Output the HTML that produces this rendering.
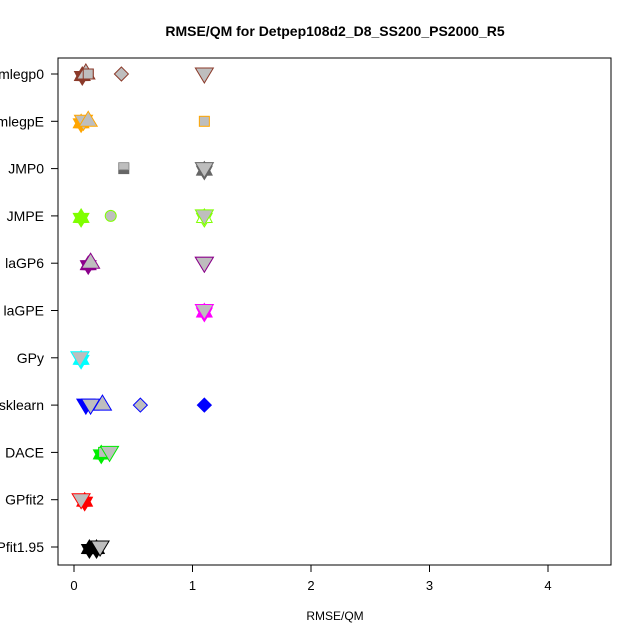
<!DOCTYPE html>
<html><head><meta charset="utf-8"><style>
body{margin:0;background:#fff;font-family:"Liberation Sans",sans-serif}
svg{display:block}
</style></head><body>
<svg id="chart" width="640" height="640" font-family="Liberation Sans, sans-serif">
<text x="335" y="36" text-anchor="middle" font-weight="bold" font-size="14">RMSE/QM for Detpep108d2_D8_SS200_PS2000_R5</text>
<text x="335" y="620" text-anchor="middle" font-size="12">RMSE/QM</text>
<rect x="58" y="58" width="553" height="507" fill="none" stroke="#000"/>
<g id="marks"></g>
</svg>
<script>
const categories=["mlegp0","mlegpE","JMP0","JMPE","laGP6","laGPE","GPy","sklearn","DACE","GPfit2","GPfit1.95"];
const colors=["#8B3A2A","#FFA500","#666666","#7FFF00","#8B008B","#FF00FF","#00FFFF","#0000FF","#00EE00","#FF0000","#000000"];
const xTicks=[0,1,2,3,4];
// per-category points: [value, shape, filled]
const pts_mlegp0=[[0.07,"star",1],[0.12,"square",1],[0.1,"tri",0],[0.12,"square",0],[0.4,"diamond",0],[1.1,"tridown",0]];
const pts_mlegpE=[[0.06,"star",1],[0.08,"tridown",0],[0.12,"tri",0],[1.1,"square",0]];
const pts_JMP0=[[0.42,"square",1],[0.42,"squarehalf",0],[1.1,"star",1],[1.1,"tridown",0]];
const pts_JMPE=[[0.06,"star",1],[0.31,"circle",0],[1.1,"star",0],[1.1,"tridown",0]];
const pts_laGP6=[[0.12,"star",1],[0.14,"tri",0],[1.1,"tridown",1],[1.1,"tridown",0]];
const pts_laGPE=[[1.1,"star",1],[1.1,"tridown",0]];
const pts_GPy=[[0.06,"star",1],[0.05,"tridown",0]];
const pts_sklearn=[[0.1,"tridown",1],[0.17,"square",1],[0.14,"tridown",0],[0.24,"tri",0],[0.56,"diamond",0],[1.1,"diamond",1]];
const pts_DACE=[[0.23,"star",1],[0.25,"square",0],[0.3,"tridown",0]];
const pts_GPfit2=[[0.09,"star",1],[0.06,"tridown",0]];
const pts_GPfit195=[[0.13,"star",1],[0.19,"star",1],[0.22,"tridown",0]];
const allPts=[pts_mlegp0,pts_mlegpE,pts_JMP0,pts_JMPE,pts_laGP6,pts_laGPE,pts_GPy,pts_sklearn,pts_DACE,pts_GPfit2,pts_GPfit195];

const NS="http://www.w3.org/2000/svg";
const svg=document.getElementById("chart");
const g=document.getElementById("marks");
const x=v=>74+v*118.5;
const y=i=>74+i*47.3;
function mk(t,a,p){const e=document.createElementNS(NS,t);for(const k in a)e.setAttribute(k,a[k]);(p||svg).appendChild(e);return e;}
xTicks.forEach(t=>{
  const l=mk("line",{x1:x(t),x2:x(t),y1:565,y2:572,stroke:"#000"});
  
  
  const tx=mk("text",{x:x(t),y:590,"text-anchor":"middle","font-size":"13"});
  tx.textContent=t;
  
  
});
categories.forEach((c,i)=>{
  const l=mk("line",{x1:51,x2:58,y1:y(i),y2:y(i),stroke:"#000"});
  
  
  const tx=mk("text",{x:44,y:y(i)+5,"text-anchor":"end","font-size":"14"});
  tx.textContent=c;
  
  
});
function star(cx,cy,r){let s="";for(let k=0;k<12;k++){const rr=k%2?r*0.6:r;const a=Math.PI*k/6;s+=(cx+rr*Math.sin(a))+","+(cy-rr*Math.cos(a))+" ";}return s;}
allPts.forEach((arr,i)=>{
  const col=colors[i];
  arr.forEach(p=>{
    const cx=x(p[0]),cy=y(i),f=p[2]?col:"#bebebe",s=col;
    let e;
    if(p[1]==="star")e=mk("polygon",{points:star(cx,cy+2,9),fill:p[2]?col:"none",stroke:col},g);
    else if(p[1]==="tri")e=mk("polygon",{points:`${cx-9},${cy+5} ${cx+9},${cy+5} ${cx},${cy-10}`,fill:f,stroke:s},g);
    else if(p[1]==="tridown")e=mk("polygon",{points:`${cx-9},${cy-6} ${cx+9},${cy-6} ${cx},${cy+9}`,fill:f,stroke:s},g);
    else if(p[1]==="square")e=mk("rect",{x:cx-5,y:cy-5,width:10,height:10,fill:f,stroke:s},g);
    else if(p[1]==="squarehalf")e=mk("rect",{x:cx-5,y:cy-6,width:10,height:7,fill:"#bebebe",stroke:"#999"},g);
    else if(p[1]==="diamond")e=mk("polygon",{points:`${cx},${cy-7} ${cx+7},${cy} ${cx},${cy+7} ${cx-7},${cy}`,fill:f,stroke:s},g);
    else if(p[1]==="circle")e=mk("circle",{cx:cx,cy:cy,r:5.5,fill:f,stroke:s},g);
    
    
  });
});
</script>
</body></html>
